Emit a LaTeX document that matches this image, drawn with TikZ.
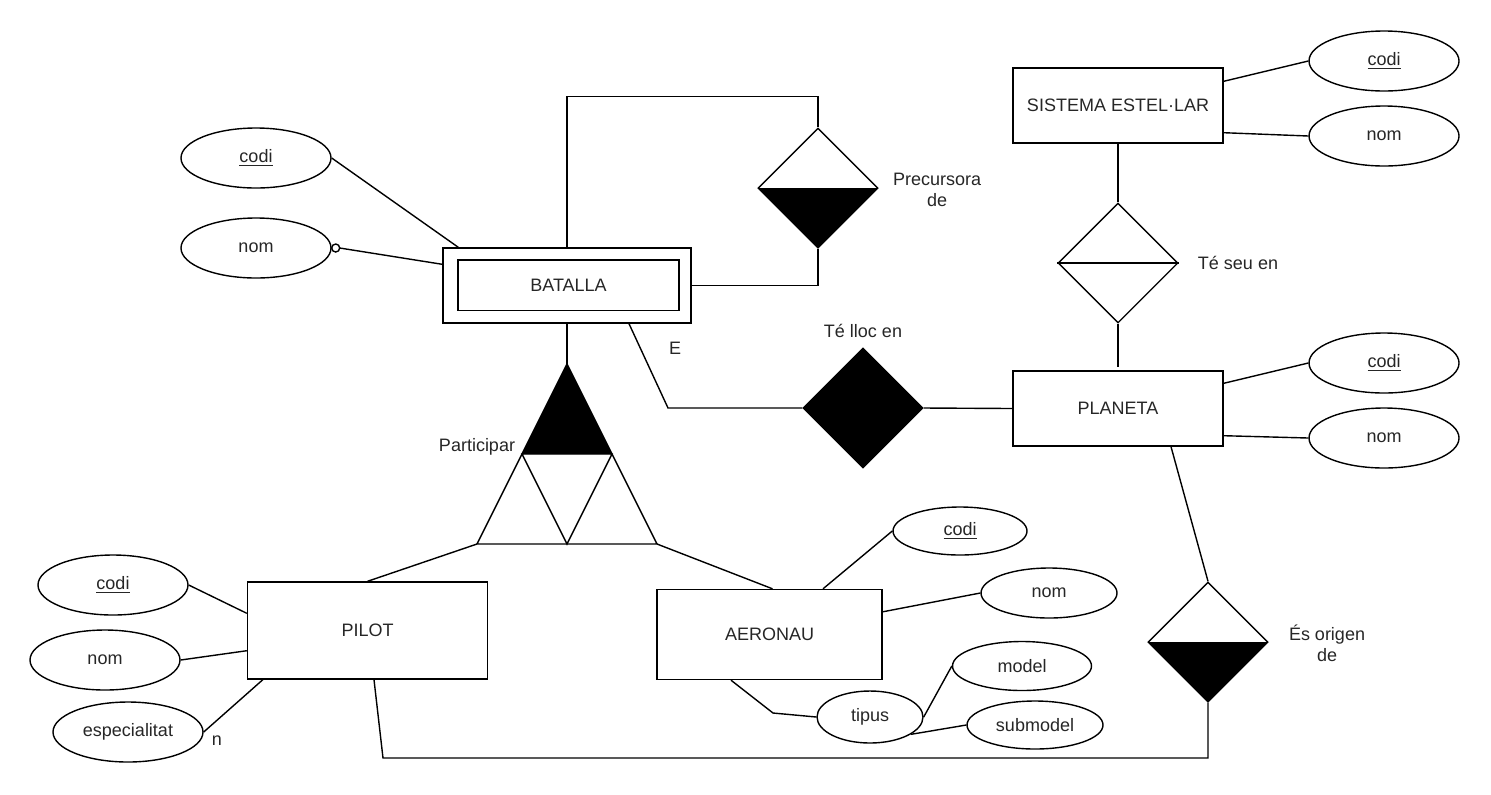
\documentclass[tikz,border=0pt]{standalone}
\usepackage{fontspec}
\setmainfont{Liberation Sans}
\usetikzlibrary{shapes.geometric}
\begin{document}
\begin{tikzpicture}[x=0.5pt,y=-0.5pt,
  every node/.style={font=\fontsize{9pt}{10.5pt}\selectfont, text=black!85},
  every path/.style={line width=0.7pt},
  ent/.style={draw, rectangle, inner sep=0pt},
  attr/.style={draw, ellipse, inner sep=0pt},
  rel/.style={draw, diamond, inner sep=0pt, minimum width=60pt, minimum height=60pt},
  lbl/.style={align=center, inner sep=0pt}]
\useasboundingbox (0,0) rectangle (1491,794);

% entities
\node[ent, minimum width=124pt, minimum height=37.5pt] (bat) at (567,285.5) {};
\node[ent, minimum width=110.5pt, minimum height=25.25pt] (batin) at (568.5,285.25) {BATALLA};
\node[ent, minimum width=105pt, minimum height=37.5pt] (sis) at (1118,105.5) {SISTEMA ESTEL·LAR};
\node[ent, minimum width=105pt, minimum height=37.5pt] (pla) at (1118,408.5) {PLANETA};
\node[ent, minimum width=120pt, minimum height=48.5pt] (pil) at (367.5,630.5) {PILOT};
\node[ent, minimum width=112.5pt, minimum height=45pt] (aer) at (769.5,634.5) {AERONAU};

% attributes
\node[attr, minimum width=75pt, minimum height=30pt] (bcodi) at (256,158) {\underline{codi}};
\node[attr, minimum width=75pt, minimum height=30pt] (bnom) at (256,248) {nom};
\node[attr, minimum width=75pt, minimum height=30pt] (scodi) at (1384,61) {\underline{codi}};
\node[attr, minimum width=75pt, minimum height=30pt] (snom) at (1384,136) {nom};
\node[attr, minimum width=75pt, minimum height=30pt] (pcodi) at (1384,363) {\underline{codi}};
\node[attr, minimum width=75pt, minimum height=30pt] (pnom) at (1384,438) {nom};
\node[attr, minimum width=75pt, minimum height=30pt] (picodi) at (113,585) {\underline{codi}};
\node[attr, minimum width=75pt, minimum height=30pt] (pinom) at (105,660) {nom};
\node[attr, minimum width=75pt, minimum height=30pt] (piesp) at (128,732) {especialitat};
\node[attr, minimum width=67pt, minimum height=24pt] (acodi) at (960,531) {\underline{codi}};
\node[attr, minimum width=68pt, minimum height=25pt] (anom) at (1049,593) {nom};
\node[attr, minimum width=53pt, minimum height=26pt] (tipus) at (870,717) {tipus};
\node[attr, minimum width=69.5pt, minimum height=24.5pt] (model) at (1022,666) {model};
\node[attr, minimum width=68pt, minimum height=24pt] (submodel) at (1035,725) {submodel};

% relationships
\node[rel] (prec) at (818,188) {};
\fill (prec.west) -- (prec.east) -- (prec.south) -- cycle;
\node[rel] (teseu) at (1118,263) {};
\draw (teseu.west) -- (teseu.east);
\node[rel, fill=black] (tell) at (863,408) {};
\node[rel] (orig) at (1208,642) {};
\fill (orig.west) -- (orig.east) -- (orig.south) -- cycle;

% ternary triangle
\coordinate (tA) at (567,364);
\coordinate (tML) at (522,454);
\coordinate (tMR) at (612,454);
\coordinate (tBL) at (477,544);
\coordinate (tBR) at (657,544);
\coordinate (tBM) at (567,544);
\fill (tA) -- (tML) -- (tMR) -- cycle;
\draw (tA) -- (tBL) -- (tBR) -- cycle;
\draw (tML) -- (tMR) -- (tBM) -- cycle;

% labels
\node[lbl] (lprec) at (937,190) {Precursora\\de};
\node[lbl] (lteseu) at (1238,263) {Té seu en};
\node[lbl] (ltell) at (863,331) {Té lloc en};
\node[lbl] (lE) at (675,348) {E};
\node[lbl] (lpart) at (477,447) {Participar};
\node[lbl] (lorig) at (1327,643) {És origen\\de};
\node[lbl] (ln) at (217,741) {n};

% helper coordinates
\coordinate (ebend) at (668,408);
\coordinate (pcorner) at (383,758);
\coordinate (tbend) at (773,713);

% connectors
\draw (bcodi.east) -- ([xshift=8pt]bat.north west);
\draw ([xshift=4pt]bnom.east) -- ([yshift=-8.5pt]bat.north west);
\draw[fill=white] ([xshift=2pt]bnom.east) circle (2pt);
\draw (bat.north) -- ++(0,-151) -| (prec.north);
\draw (prec.south) |- (bat.east);
\draw (bat.south) -- (tA);
\draw (tBL) -- (pil.north);
\draw (tBR) -- ([xshift=1.5pt]aer.north);
\draw ([xshift=31pt]bat.south) -- (ebend) -- (tell.west);
\draw (tell.east) -- (pla.west);
\draw (sis.south) -- (teseu.north);
\draw (teseu.south) -- ([yshift=1.5pt]pla.north);
\draw ([yshift=-7pt]sis.north east) -- (scodi.west);
\draw ([yshift=5.5pt]sis.south east) -- (snom.west);
\draw ([yshift=-6.5pt]pla.north east) -- (pcodi.west);
\draw ([yshift=5.5pt]pla.south east) -- (pnom.west);
\draw ([xshift=26.5pt]pla.south) -- (orig.north);
\draw (orig.south) |- (pcorner) -- ([xshift=3.25pt]pil.south);
\draw (picodi.east) -- ([yshift=-16pt]pil.north west);
\draw (pinom.east) -- ([yshift=14.5pt]pil.south west);
\draw (piesp.east) -- ([xshift=8pt]pil.south west);
\draw ([xshift=26.75pt]aer.north) -- (acodi.west);
\draw ([yshift=-11.5pt]aer.north east) -- (anom.west);
\draw ([xshift=-19.25pt]aer.south) -- (tbend) -- (tipus.west);
\draw (tipus.east) -- (model.west);
\draw (tipus.-23) -- (submodel.west);
\end{tikzpicture}
\end{document}
